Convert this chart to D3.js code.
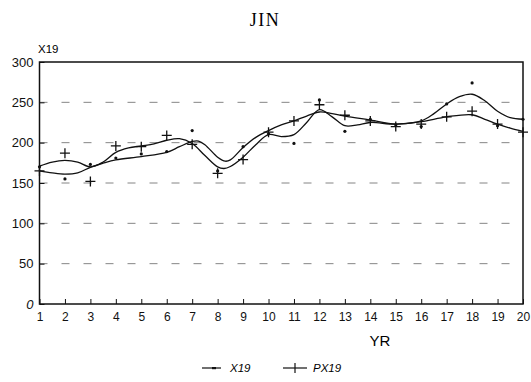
<!DOCTYPE html>
<html><head><meta charset="utf-8">
<script src="https://cdn.jsdelivr.net/npm/d3@7"></script>
<style>body{margin:0;background:#fff}svg{display:block}</style>
</head><body>
<svg id="c" width="531" height="382"></svg>
<script>
const years = d3.range(1, 21);
const x19  = [170,155,173,181,186,189,215,165,195,211,199,253,214,229,222,220,248,274,221,229];
const px19 = [165,187,152,196,195,209,198,162,179,213,227,247,234,227,220,223,232,239,223,213];
// smooth fitted curves: [year, value]
const fitX19 = [[1,171],[1.5,176],[2,178],[2.5,176],[3,170],[3.5,176],[4,188],[4.5,193.5],[5,196],[5.5,198.5],[6,203],[6.5,205],[7,199],[7.5,184],[8,170],[8.25,168],[8.5,170.5],[9,182],[9.5,197.5],[10,210],[10.5,207.5],[11,210],[11.5,225],[12,241],[12.5,232],[13,221],[13.5,222],[14,225],[15,223],[16,227],[16.5,236],[17,248],[17.5,257],[18,260],[18.5,252],[19,239],[19.5,231],[20,229]];
const fitPX19 = [[1,165],[1.5,162.5],[2,161],[2.5,162.5],[3,169.5],[3.5,174.5],[4,178.6],[5,182.7],[6,188],[6.5,195],[7,201.5],[7.25,202],[7.5,197.5],[8,182],[8.3,177],[8.5,178.6],[9,194],[9.5,206.6],[10,215],[10.5,222],[11,227],[11.5,233],[12,238],[12.5,236],[13,233],[14,228],[15,223],[16,226],[17,232],[18,234.6],[18.5,229],[19,223],[19.5,218],[20,214]];
const yTicks = [0,50,100,150,200,250,300];
const gridVals = [50,100,150,200,250];

const svg = d3.select("#c");
const x = d3.scaleLinear().domain([1,20]).range([39.5,523]);
const y = d3.scaleLinear().domain([0,300]).range([304,62]);
const font = "Liberation Sans, Arial, sans-serif";

// title
svg.append("text").attr("x",265).attr("y",26).attr("text-anchor","middle")
  .attr("font-family","Liberation Serif, Times New Roman, serif").attr("font-size",18)
  .attr("letter-spacing",1.5).text("JIN");

// gridlines
svg.append("g").selectAll("line").data(gridVals).join("line")
  .attr("x1",x(1)).attr("x2",x(20)).attr("y1",d=>y(d)).attr("y2",d=>y(d))
  .attr("stroke","#777").attr("stroke-width",0.9).attr("stroke-dasharray","8,14");

// axes
const yAxis = d3.axisLeft(y).tickValues(yTicks).tickSize(-5).tickPadding(6);
const gy = svg.append("g").attr("transform",`translate(${x(1)},0)`).call(yAxis);
gy.select(".domain").remove();
gy.selectAll("text").attr("font-family",font).attr("font-size",13).attr("fill","#111");
gy.selectAll(".tick text").filter(d=>d===0).attr("font-style","italic");
gy.selectAll("line").attr("stroke","#111");

const xAxis = d3.axisBottom(x).tickValues(years).tickSize(-5).tickPadding(8).tickFormat(d3.format("d"));
const gx = svg.append("g").attr("transform",`translate(0,${y(0)})`).call(xAxis);
gx.select(".domain").remove();
gx.selectAll("text").attr("font-family",font).attr("font-size",12).attr("fill","#111");
gx.selectAll("line").attr("stroke","#111");

// frame
svg.append("rect").attr("x",x(1)).attr("y",y(300)).attr("width",x(20)-x(1)).attr("height",y(0)-y(300))
  .attr("fill","none").attr("stroke","#111").attr("stroke-width",1.5);

// axis labels
svg.append("text").attr("x",38).attr("y",53).attr("font-family",font).attr("font-size",11.5).text("X19");
svg.append("text").attr("x",380).attr("y",346).attr("text-anchor","middle").attr("font-family",font).attr("font-size",15).text("YR");

// curves
const line = d3.line().x(d=>x(d[0])).y(d=>y(d[1])).curve(d3.curveCatmullRom.alpha(0.5));
svg.append("path").attr("d",line(fitX19)).attr("fill","none").attr("stroke","#111").attr("stroke-width",1.3);
svg.append("path").attr("d",line(fitPX19)).attr("fill","none").attr("stroke","#111").attr("stroke-width",1.3);

// points
svg.append("g").selectAll("circle").data(years).join("circle")
  .attr("cx",(d)=>x(d)).attr("cy",(d,i)=>y(x19[i])).attr("r",1.6).attr("fill","#111");
svg.append("g").selectAll("path").data(years).join("path")
  .attr("transform",(d,i)=>`translate(${x(d)},${y(px19[i])})`)
  .attr("d","M-5,0H5M0,-5V5").attr("stroke","#111").attr("stroke-width",1.3).attr("fill","none");

// legend
const lg = svg.append("g");
lg.append("line").attr("x1",202).attr("x2",221).attr("y1",368).attr("y2",368).attr("stroke","#111").attr("stroke-width",1.2);
lg.append("rect").attr("x",212).attr("y",367).attr("width",4).attr("height",2.2).attr("fill","#111");
lg.append("text").attr("x",230).attr("y",372).attr("font-family",font).attr("font-size",11.5).attr("font-style","italic").text("X19");
lg.append("line").attr("x1",283).attr("x2",307).attr("y1",368).attr("y2",368).attr("stroke","#111").attr("stroke-width",1.2);
lg.append("path").attr("d","M295,363V373").attr("stroke","#111").attr("stroke-width",1.2);
lg.append("text").attr("x",313).attr("y",372).attr("font-family",font).attr("font-size",11.5).attr("font-style","italic").text("PX19");
</script>
</body></html>
